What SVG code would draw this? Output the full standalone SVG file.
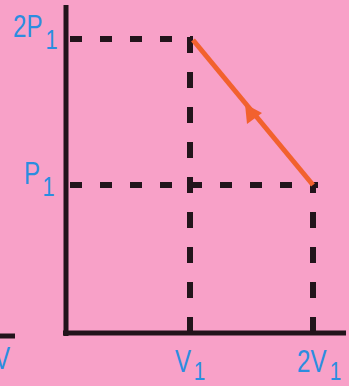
<svg xmlns="http://www.w3.org/2000/svg" width="349" height="386" viewBox="0 0 349 386">
<style>
.bg{fill:#f8a1c8}
.axis{stroke:#22141b;stroke-width:5;fill:none;stroke-linecap:butt}
.dh{stroke:#22141b;stroke-width:6;fill:none;stroke-dasharray:12 18}
.dv{stroke:#22141b;stroke-width:6;fill:none;stroke-dasharray:16 19}
.proc{stroke:#f2612e;stroke-width:5;fill:none}
.lbl{font-family:"Liberation Sans",Arial,sans-serif;fill:#2b8de0}
.big{font-size:31px}
.sub{font-size:28px}
.subb{font-size:26px}
</style>
<rect class="bg" x="0" y="0" width="349" height="386"/>
<g id="axes">
<line class="axis" x1="66" y1="5" x2="66" y2="336"/>
<line class="axis" x1="63" y1="333" x2="346" y2="333"/>
<line class="axis" x1="0" y1="336" x2="15" y2="336" stroke-width="4"/>
</g>
<g id="connectors">
<line class="dh" x1="70" y1="39" x2="193" y2="39"/>
<line class="dh" x1="70" y1="185" x2="318" y2="185"/>
<line class="dv" x1="190" y1="37" x2="190" y2="331"/>
<line class="dv" x1="313" y1="185" x2="313" y2="331" stroke-dashoffset="8"/>
<line class="proc" x1="193" y1="40" x2="313" y2="185"/>
<polygon fill="#f2612e" points="245,104 262,113 247,124"/>
</g>
<g id="label-2P1">
<text class="lbl big" transform="translate(13 37) scale(0.78 1)">2P</text>
<text class="lbl sub" transform="translate(45.5 49) scale(0.78 1)">1</text>
</g>
<g id="label-P1">
<text class="lbl big" transform="translate(24 184) scale(0.78 1)">P</text>
<text class="lbl sub" transform="translate(42.5 196) scale(0.78 1)">1</text>
</g>
<g id="label-V1">
<text class="lbl big" transform="translate(175 372) scale(0.78 1)">V</text>
<text class="lbl subb" transform="translate(193.8 380) scale(0.8 1)">1</text>
</g>
<g id="label-2V1">
<text class="lbl big" transform="translate(297 372) scale(0.78 1)">2V</text>
<text class="lbl subb" transform="translate(329.8 380) scale(0.8 1)">1</text>
</g>
<g id="label-V">
<text class="lbl big" transform="translate(-6 369) scale(0.78 1)">V</text>
</g>
</svg>
